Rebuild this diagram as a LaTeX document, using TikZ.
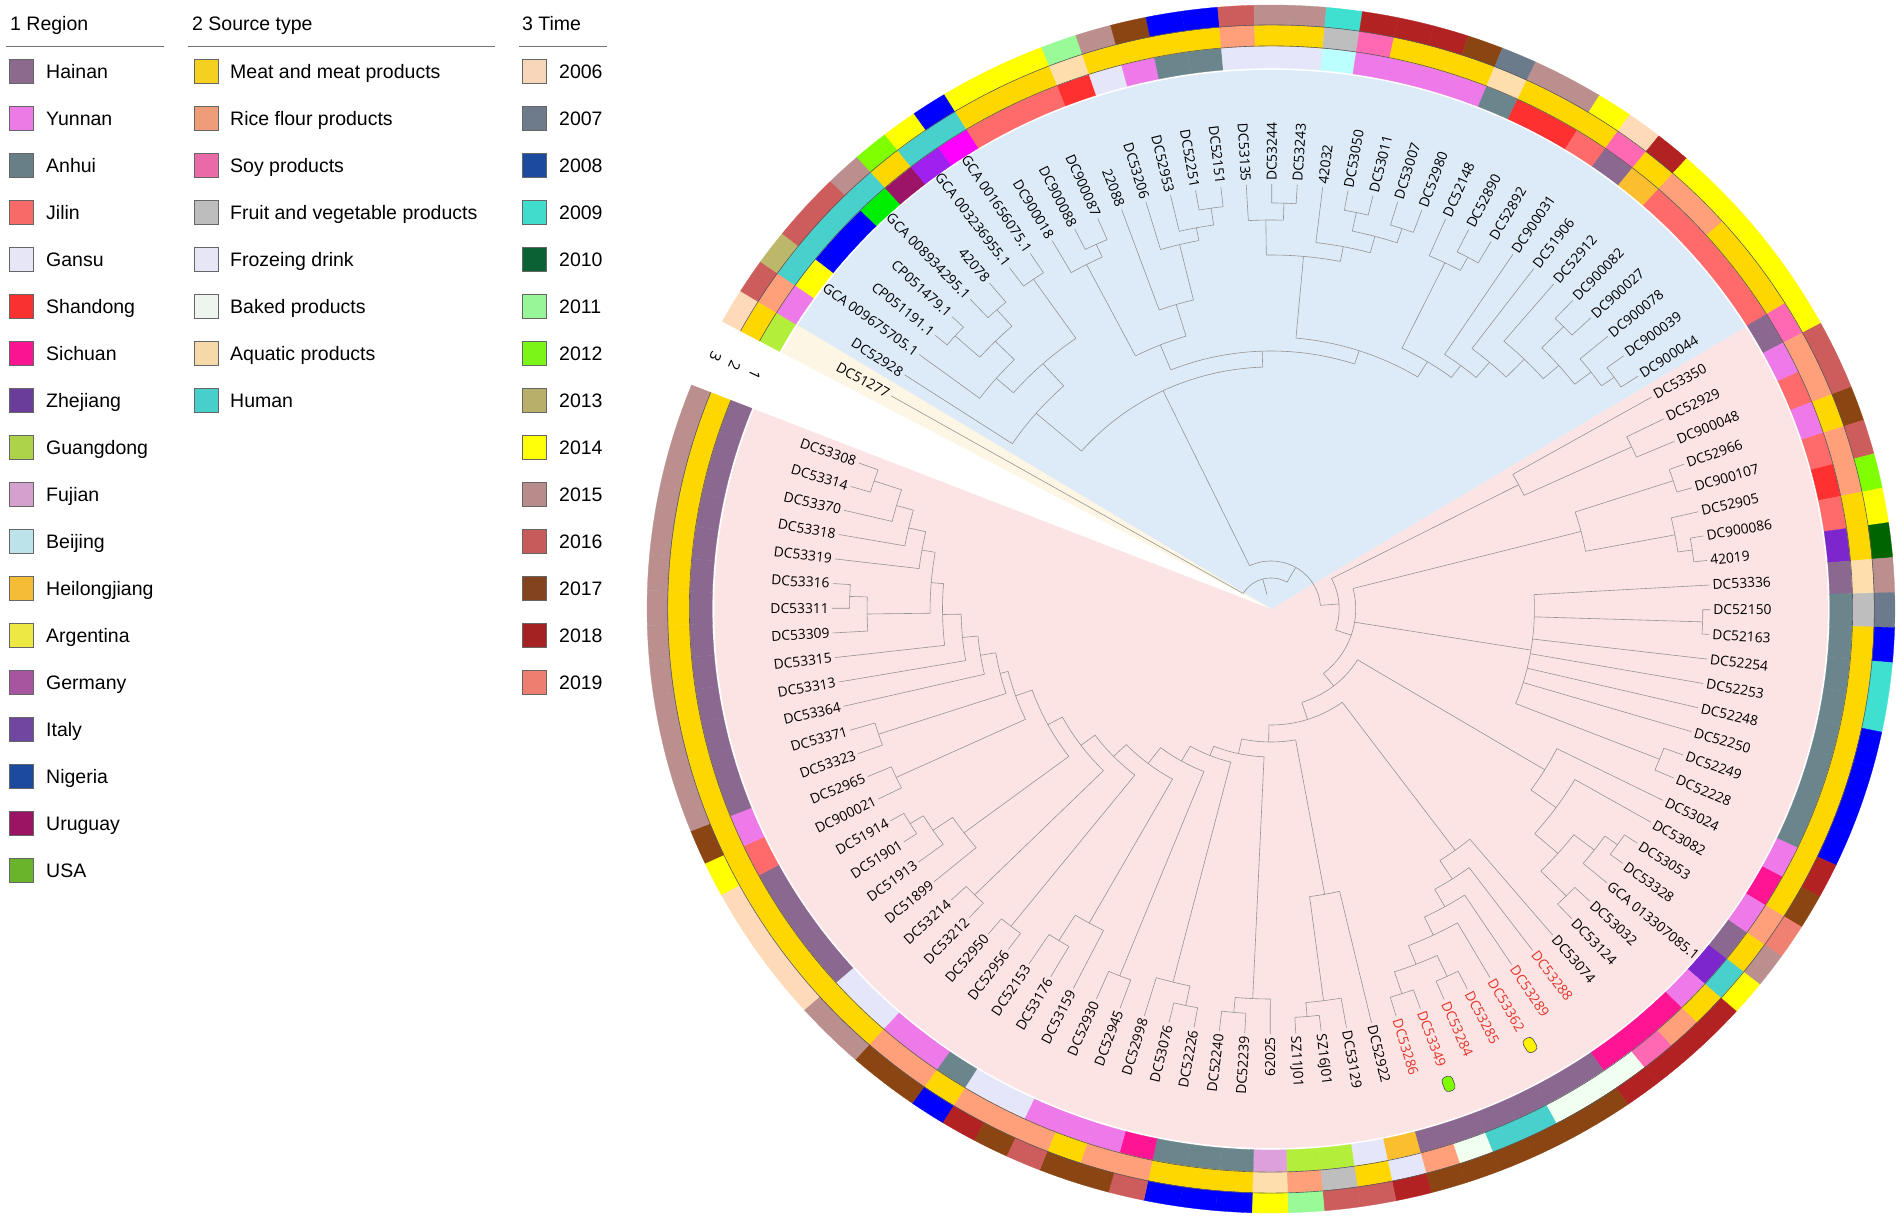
\documentclass[tikz,border=0pt]{standalone}
\usepackage{fontspec}
\setmainfont{Liberation Sans}
\newfontfamily\lblfont{Open Sans}
% ring colours
\definecolor{chai}{HTML}{8B6890}\definecolor{cyun}{HTML}{EE7AE9}\definecolor{canh}{HTML}{6B858D}
\definecolor{cjil}{HTML}{FF6A6A}\definecolor{cgan}{HTML}{E6E6FA}\definecolor{csha}{HTML}{FF3030}
\definecolor{csic}{HTML}{FF1493}\definecolor{czhe}{HTML}{7D26CD}\definecolor{cgua}{HTML}{B3EE3A}
\definecolor{cfuj}{HTML}{DDA0DD}\definecolor{cbei}{HTML}{BBFFFF}\definecolor{chei}{HTML}{FBBE2E}
\definecolor{carg}{HTML}{FFFF00}\definecolor{cnig}{HTML}{0000FF}\definecolor{curu}{HTML}{9C1468}
\definecolor{cusa}{HTML}{00EE00}\definecolor{cpura}{HTML}{A020F0}\definecolor{cmag}{HTML}{FF00FF}
\definecolor{cmeat}{HTML}{FFD700}\definecolor{crice}{HTML}{FFA07A}\definecolor{csoy}{HTML}{FF69B4}
\definecolor{cfruit}{HTML}{BEBEBE}\definecolor{cfroz}{HTML}{E6E6FA}\definecolor{cbaked}{HTML}{F0FFF0}
\definecolor{caqua}{HTML}{FFDEAD}\definecolor{chum}{HTML}{48D1CC}
\definecolor{c06}{HTML}{FFDAB9}\definecolor{c07}{HTML}{6C7B8B}\definecolor{c08}{HTML}{0000FF}
\definecolor{c09}{HTML}{40E0D0}\definecolor{c10}{HTML}{006400}\definecolor{c11}{HTML}{98FB98}
\definecolor{c12}{HTML}{7FFF00}\definecolor{c13}{HTML}{BDB76B}\definecolor{c14}{HTML}{FFFF00}
\definecolor{c15}{HTML}{BC8F8F}\definecolor{c16}{HTML}{CD5C5C}\definecolor{c17}{HTML}{8B4513}
\definecolor{c18}{HTML}{B22222}\definecolor{c19}{HTML}{F08072}
% legend colours
\definecolor{lhai}{HTML}{8B6A8D}\definecolor{lyun}{HTML}{EC7BE6}\definecolor{lanh}{HTML}{687F87}
\definecolor{ljil}{HTML}{F86A68}\definecolor{lgan}{HTML}{E6E6F6}\definecolor{lsha}{HTML}{F93131}
\definecolor{lsic}{HTML}{FA1492}\definecolor{lzhe}{HTML}{6A3D9A}\definecolor{lgua}{HTML}{ADD34B}
\definecolor{lfuj}{HTML}{D4A0CE}\definecolor{lbei}{HTML}{BDE3EA}\definecolor{lhei}{HTML}{F5BD35}
\definecolor{larg}{HTML}{EEE845}\definecolor{lger}{HTML}{A8559F}\definecolor{lita}{HTML}{6F47A0}
\definecolor{lnig}{HTML}{1C4A9E}\definecolor{luru}{HTML}{9B1464}\definecolor{lusa}{HTML}{6AB42C}
\definecolor{lmeat}{HTML}{F5D01F}\definecolor{lrice}{HTML}{EF9C79}\definecolor{lsoy}{HTML}{E86AA6}
\definecolor{lfruit}{HTML}{BDBDBD}\definecolor{lfroz}{HTML}{E6E6F6}\definecolor{lbaked}{HTML}{EEF5EE}
\definecolor{laqua}{HTML}{F5D9A9}\definecolor{lhum}{HTML}{48CFCB}
\definecolor{l06}{HTML}{F8D6B9}\definecolor{l07}{HTML}{6E7B8B}\definecolor{l08}{HTML}{1C4A9E}
\definecolor{l09}{HTML}{40DCCC}\definecolor{l10}{HTML}{0B6034}\definecolor{l11}{HTML}{98F598}
\definecolor{l12}{HTML}{7AF517}\definecolor{l13}{HTML}{B8B06A}\definecolor{l14}{HTML}{FFFF0A}
\definecolor{l15}{HTML}{B98C8C}\definecolor{l16}{HTML}{C75A5A}\definecolor{l17}{HTML}{82431E}
\definecolor{l18}{HTML}{A52222}\definecolor{l19}{HTML}{EE7E70}
\definecolor{bluebg}{HTML}{DDEAF7}\definecolor{pinkbg}{HTML}{FCE4E4}\definecolor{yelbg}{HTML}{FEF6E4}
\definecolor{labred}{HTML}{E5352B}
\makeatletter
\newcommand\cl[3]{%
  \gdef\cl@first{}%
  \foreach \cx in {#3}{%
    \edef\cl@a{\csname tA@\cx\endcsname}%
    \edef\cl@r{\csname tR@\cx\endcsname}%
    \draw[br] (\cl@a:#2) -- (\cl@a:\cl@r);%
    \ifx\cl@first\@empty\xdef\cl@first{\cl@a}\fi
    \xdef\cl@last{\cl@a}%
  }%
  \draw[br] (\cl@first:#2) arc[start angle=\cl@first, end angle=\cl@last, radius=#2];%
  \pgfmathsetmacro\cl@mid{(\cl@first+\cl@last)/2}%
  \expandafter\xdef\csname tA@#1\endcsname{\cl@mid}%
  \expandafter\xdef\csname tR@#1\endcsname{#2}%
}
\makeatother
\begin{document}
\begin{tikzpicture}[x=1pt,y=1pt,
  br/.style={draw=black!42, line width=0.6pt},
  lbl/.style={font=\lblfont\fontsize{13.8}{15}\selectfont, inner sep=0pt, text height=9.9pt, text depth=0pt},
  lg/.style={font=\fontsize{19.5}{22}\selectfont, anchor=west, inner sep=0pt, text height=14pt, text depth=0pt},
  sw/.style={draw=black!60, line width=0.7pt}]
\useasboundingbox (-1271,-613) rectangle (631,609);
\fill[white] (-1271,-613) rectangle (631,609);
% ---------------- legend
\begin{scope}[shift={(-1271,609)},yscale=-1]
\node[lg] (t1) at (10,24) {1 Region};
\node[lg] (t2) at (192,24) {2 Source type};
\node[lg] (t3) at (522,24) {3 Time};
\draw[black!55, line width=0.9pt] (6,46) -- (164,46);
\draw[black!55, line width=0.9pt] (188,46) -- (495,46);
\draw[black!55, line width=0.9pt] (519,46) -- (607,46);
\foreach \n/\c [count=\k from 0] in {Hainan/lhai,Yunnan/lyun,Anhui/lanh,Jilin/ljil,Gansu/lgan,Shandong/lsha,Sichuan/lsic,Zhejiang/lzhe,Guangdong/lgua,Fujian/lfuj,Beijing/lbei,Heilongjiang/lhei,Argentina/larg,Germany/lger,Italy/lita,Nigeria/lnig,Uruguay/luru,USA/lusa}{
  \pgfmathsetmacro\yy{71.6+47*\k}
  \filldraw[sw, fill=\c] (9,\yy-12) rectangle (33,\yy+12);
  \node[lg] at (46,\yy) {\n};
}
\foreach \n/\c [count=\k from 0] in {Meat and meat products/lmeat,Rice flour products/lrice,Soy products/lsoy,Fruit and vegetable products/lfruit,Frozeing drink/lfroz,Baked products/lbaked,Aquatic products/laqua,Human/lhum}{
  \pgfmathsetmacro\yy{71.6+47*\k}
  \filldraw[sw, fill=\c] (194,\yy-12) rectangle (218,\yy+12);
  \node[lg] at (230,\yy) {\n};
}
\foreach \n/\c [count=\k from 0] in {2006/l06,2007/l07,2008/l08,2009/l09,2010/l10,2011/l11,2012/l12,2013/l13,2014/l14,2015/l15,2016/l16,2017/l17,2018/l18,2019/l19}{
  \pgfmathsetmacro\yy{71.6+47*\k}
  \filldraw[sw, fill=\c] (522,\yy-12) rectangle (546,\yy+12);
  \node[lg] at (559,\yy) {\n};
}
\end{scope}
% ---------------- circular tree
\begin{scope}[xscale=1.033]
\fill[pinkbg] (0,0) -- (31.57:539) arc[start angle=31.57, end angle=-201.77, radius=539] -- cycle;
\fill[bluebg] (0,0) -- (148.23:539) arc[start angle=148.23, end angle=31.57, radius=539] -- cycle;
\fill[yelbg] (0,0) -- (151.57:539) arc[start angle=151.57, end angle=148.23, radius=539] -- cycle;
% leaves
\foreach \i in {0,...,105}{
  \pgfmathsetmacro\a{149.9-3.33333*\i}
  \expandafter\xdef\csname tA@\i\endcsname{\a}
  \expandafter\xdef\csname tR@\i\endcsname{425}
}
% blue clade
\cl{b34}{410}{3,4}
\cl{b56}{400}{5,6}
\cl{b36}{378}{b34,b56}
\cl{b26}{352}{2,b36}
\cl{b78}{402}{7,8}
\cl{b28}{330}{b26,b78}
\cl{b18}{300}{1,b28}
\cl{b1011}{402}{10,11}
\cl{b911}{388}{9,b1011}
\cl{b1516}{405}{15,16}
\cl{b1416}{388}{14,b1516}
\cl{b1316}{375}{13,b1416}
\cl{b1216}{318}{12,b1316}
\cl{b916}{285}{b911,b1216}
\cl{b1819}{406}{18,19}
\cl{b1719}{389}{17,b1819}
\cl{b2122}{405}{21,22}
\cl{b2324}{401}{23,24}
\cl{b2124}{386}{b2122,b2324}
\cl{b2024}{369}{20,b2124}
\cl{b1724}{354}{b1719,b2024}
\cl{b2627}{400}{26,27}
\cl{b2527}{385}{25,b2627}
\cl{b3132}{400}{31,32}
\cl{b3435}{405}{34,35}
\cl{b3335}{390}{33,b3435}
\cl{b3135}{370}{b3132,b3335}
\cl{b3035}{350}{30,b3135}
\cl{b2935}{325}{29,b3035}
\cl{b2835}{305}{28,b2935}
\cl{b2535}{290}{b2527,b2835}
\cl{b1735}{272}{b1724,b2535}
\cl{b935}{258}{b916,b1735}
\cl{bB}{242}{b18,b935}
% pink clade
\cl{p3738}{385}{37,38}
\cl{p3638}{270}{36,p3738}
\cl{p3940}{410}{39,40}
\cl{p4243}{412}{42,43}
\cl{p4143}{398}{41,p4243}
\cl{p3943}{310}{p3940,p4143}
\cl{p4546}{418}{45,46}
\cl{p5152}{405}{51,52}
\cl{p4452}{255}{44,p4546,47,48,49,50,p5152}
\cl{p5556}{410}{55,56}
\cl{p5557}{395}{p5556,57}
\cl{p5859}{405}{58,59}
\cl{p5559}{370}{p5557,p5859}
\cl{p5459}{340}{54,p5559}
\cl{p5359}{310}{53,p5459}
\cl{p6667}{405}{66,67}
\cl{p6465}{405}{64,65}
\cl{p6467}{382}{p6465,p6667}
\cl{p6367}{362}{63,p6467}
\cl{p6267}{342}{62,p6367}
\cl{p6167}{322}{61,p6267}
\cl{p6067}{300}{60,p6167}
\cl{p7071}{409}{70,71}
\cl{p6971}{395}{69,p7071}
\cl{p6871}{290}{68,p6971}
\cl{p7374}{405}{73,74}
\cl{p7274}{390}{72,p7374}
\cl{p7576}{405}{75,76}
\cl{p7577}{385}{p7576,77}
\cl{p7879}{395}{78,79}
\cl{p8182}{390}{81,82}
\cl{p8082}{360}{80,p8182}
\cl{p8384}{405}{83,84}
\cl{p8586}{405}{85,86}
\cl{p8990}{410}{89,90}
\cl{p8890}{395}{88,p8990}
\cl{p8790}{372}{87,p8890}
\cl{p9192}{400}{91,92}
\cl{p9394}{400}{93,94}
\cl{pA}{405}{104,105}
\cl{pB}{377}{103,pA}
\cl{pC}{360}{102,pB}
\cl{pD}{343}{101,pC}
\cl{pE}{408}{99,100}
\cl{pF}{391}{98,pE}
\cl{pG}{330}{pF,pD}
\cl{pH}{318}{97,pG}
\cl{pI}{300}{96,pH}
\cl{pJ}{285}{95,pI}
\cl{pK}{270}{p9394,pJ}
\cl{pL}{262}{p9192,pK}
\cl{pM}{245}{p8790,pL}
\cl{pN}{229}{p8586,pM}
\cl{pO}{212}{p8384,pN}
\cl{pP}{195}{p8082,pO}
\cl{pQ}{175}{p7879,pP}
\cl{pR}{158}{p7577,pQ}
\cl{pS}{148}{p7274,pR}
\cl{pT}{133}{p6871,pS}
\cl{pU}{116}{p6067,pT}
\cl{pV}{98}{p5359,pU}
\cl{pW}{82}{p3943,p4452,pV}
\cl{pX}{66}{p3638,pW}
\cl{rA}{48}{bB,pX}
\cl{rB}{31}{0,rA}
\edef\rootang{\csname tA@rB\endcsname}
\draw[br] (\rootang:15) -- (\rootang:31);
% labels
\foreach \t [count=\i from 0] in {DC51277,DC52928,GCA 009675705.1,CP051191.1,CP051479.1,GCA 008934295.1,42078,GCA 003236955.1,GCA 001656075.1,DC900018,DC900088,DC900087,22088,DC53206,DC52953,DC52251,DC52151,DC53135,DC53244,DC53243,42032,DC53050,DC53011,DC53007,DC52980,DC52148,DC52890,DC52892,DC900031,DC51906,DC52912,DC900082,DC900027,DC900078,DC900039,DC900044,DC53350,DC52929,DC900048,DC52966,DC900107,DC52905,DC900086,42019,DC53336,DC52150,DC52163,DC52254,DC52253,DC52248,DC52250,DC52249,DC52228,DC53024,DC53082,DC53053,DC53328,GCA 013307085.1,DC53032,DC53124,DC53074,DC53288,DC53289,DC53362,DC53285,DC53284,DC53349,DC53286,DC52922,DC53129,SZ16J01,SZ11J01,62025,DC52239,DC52240,DC52226,DC53076,DC52998,DC52945,DC52930,DC53159,DC53176,DC52153,DC52956,DC52950,DC53212,DC53214,DC51899,DC51913,DC51901,DC51914,DC900021,DC52965,DC53323,DC53371,DC53364,DC53313,DC53315,DC53309,DC53311,DC53316,DC53319,DC53318,DC53370,DC53314,DC53308}{
  \pgfmathsetmacro\a{149.9-3.33333*\i}
  \pgfmathsetmacro\ra{atan2(sin(\a),1.033*cos(\a))}
  \pgfmathsetmacro\lcos{cos(\a)}
  \def\lblc{black}
  \ifnum\i>60 \ifnum\i<68 \def\lblc{labred}\fi\fi
  \ifdim\lcos pt>0pt
    \node[lbl,text=\lblc,anchor=west,rotate=\ra] (lab\i) at (\a:428) {\t};
  \else
    \pgfmathsetmacro\rb{\ra+180}
    \node[lbl,text=\lblc,anchor=east,rotate=\rb] (lab\i) at (\a:428) {\t};
  \fi
}
% markers
\pgfmathsetmacro\ma{atan2(sin(-60.1),1.033*cos(-60.1))}
\node[draw=black!70, fill=yellow, line width=0.6pt, rounded corners=4pt, minimum width=15pt, minimum height=11pt, inner sep=0pt, rotate=\ma] (mk1) at (-60.1:503) {};
\pgfmathsetmacro\mb{atan2(sin(-70.1),1.033*cos(-70.1))}
\node[draw=black!70, fill=c12, line width=0.6pt, rounded corners=4pt, minimum width=15pt, minimum height=11pt, inner sep=0pt, rotate=\mb] (mk2) at (-70.1:505) {};
% rings
\foreach \c [count=\i from 0] in {cgua,cyun,carg,cnig,cnig,cusa,curu,cpura,cmag,cjil,cjil,cjil,csha,cgan,cyun,canh,canh,cgan,cgan,cgan,cbei,cyun,cyun,cyun,cyun,canh,csha,csha,cjil,chai,chei,cjil,cjil,cjil,cjil,cjil,chai,cyun,cjil,cyun,cjil,csha,cjil,czhe,chai,canh,canh,canh,canh,canh,canh,canh,canh,cyun,csic,cyun,chai,czhe,cyun,csic,csic,csic,chai,chai,chai,chai,chai,chai,chei,cgan,cgua,cgua,cfuj,canh,canh,canh,csic,cyun,cyun,cyun,cgan,cgan,canh,cyun,cyun,cgan,cgan,chai,chai,chai,chai,cjil,cyun,chai,chai,chai,chai,chai,chai,chai,chai,chai,chai,chai,chai,chai}{
  \pgfmathsetmacro\aa{151.5667-3.33333*\i}
  \pgfmathsetmacro\ab{148.2333-3.33333*\i}
  \filldraw[fill=\c,draw=\c,line width=0.3pt] (\aa:541) arc[start angle=\aa,end angle=\ab,radius=541] -- (\ab:563) arc[start angle=\ab,end angle=\aa,radius=563] -- cycle;
}
\foreach \c [count=\i from 0] in {cmeat,crice,chum,chum,chum,chum,cmeat,chum,chum,cmeat,cmeat,cmeat,caqua,cmeat,cmeat,cmeat,cmeat,crice,cmeat,cmeat,cfruit,csoy,cmeat,cmeat,cmeat,caqua,cmeat,cmeat,cmeat,csoy,cmeat,crice,crice,cmeat,cmeat,cmeat,csoy,crice,crice,cmeat,crice,crice,cmeat,cmeat,caqua,cfruit,cmeat,cmeat,cmeat,cmeat,cmeat,cmeat,cmeat,cmeat,cmeat,crice,cmeat,chum,cmeat,crice,csoy,cbaked,cbaked,cbaked,chum,chum,cbaked,crice,cfroz,cmeat,cfruit,crice,caqua,cmeat,cmeat,cmeat,crice,crice,cmeat,crice,crice,crice,cmeat,crice,crice,cmeat,cmeat,cmeat,cmeat,cmeat,cmeat,cmeat,cmeat,cmeat,cmeat,cmeat,cmeat,cmeat,cmeat,cmeat,cmeat,cmeat,cmeat,cmeat,cmeat,cmeat}{
  \pgfmathsetmacro\aa{151.5667-3.33333*\i}
  \pgfmathsetmacro\ab{148.2333-3.33333*\i}
  \filldraw[fill=\c,draw=\c,line width=0.3pt] (\aa:563) arc[start angle=\aa,end angle=\ab,radius=563] -- (\ab:584) arc[start angle=\ab,end angle=\aa,radius=584] -- cycle;
}
\foreach \c [count=\i from 0] in {c06,c16,c13,c16,c16,c15,c12,c14,c08,c14,c14,c14,c11,c15,c17,c08,c08,c16,c15,c15,c09,c18,c18,c18,c17,c07,c15,c15,c14,c06,c18,c14,c14,c14,c14,c14,c14,c16,c16,c17,c16,c12,c14,c10,c15,c07,c08,c09,c09,c08,c08,c08,c08,c18,c17,c19,c15,c14,c18,c18,c18,c18,c17,c17,c17,c17,c17,c17,c18,c16,c16,c11,c14,c08,c08,c08,c16,c17,c17,c16,c17,c18,c08,c17,c17,c15,c15,c06,c06,c06,c06,c14,c17,c15,c15,c15,c15,c15,c15,c15,c15,c15,c15,c15,c15,c15}{
  \pgfmathsetmacro\aa{151.5667-3.33333*\i}
  \pgfmathsetmacro\ab{148.2333-3.33333*\i}
  \filldraw[fill=\c,draw=\c,line width=0.3pt] (\aa:584) arc[start angle=\aa,end angle=\ab,radius=584] -- (\ab:604) arc[start angle=\ab,end angle=\aa,radius=604] -- cycle;
}
\draw[black!65, line width=0.6pt] (151.5667:563) arc[start angle=151.5667, end angle=-201.7667, radius=563];
\draw[black!65, line width=0.6pt] (151.5667:584) arc[start angle=151.5667, end angle=-201.7667, radius=584];
% ring numbers
\foreach \r/\n in {552/1,573.5/2,594/3}{
  \node[font=\lblfont\fontsize{15}{16}\selectfont, inner sep=0pt, rotate=245] at (154.9:\r) {\n};
}
\end{scope}
\end{tikzpicture}
\end{document}
